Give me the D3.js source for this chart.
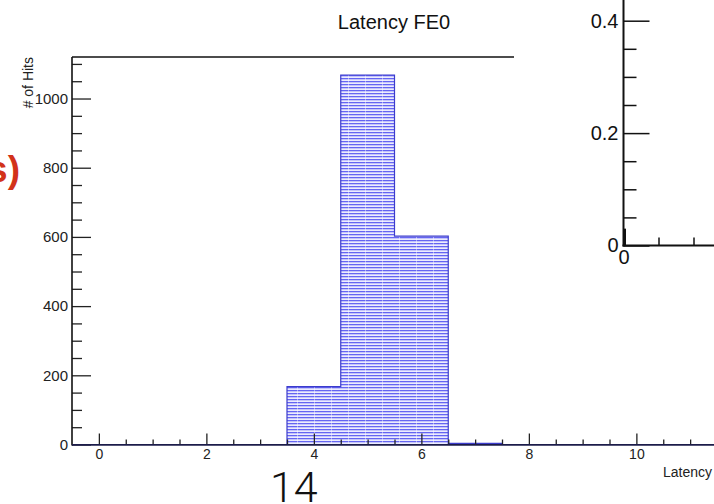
<!DOCTYPE html>
<html>
<head>
<meta charset="utf-8">
<script src="https://cdn.jsdelivr.net/npm/d3@7/dist/d3.min.js"></script>
<style>
  html, body { margin: 0; padding: 0; background: #fff; }
  svg { display: block; font-family: "Liberation Sans", Arial, sans-serif; }
</style>
</head>
<body>
<svg id="chart" width="714" height="504"></svg>
<script>
// ---------- data ----------
const latency = [0, 1, 2, 3, 4, 5, 6, 7, 8, 9, 10, 11, 12, 13, 14, 15];   // bin centres
const hits    = [0, 0, 0, 0, 167, 1068, 602, 3, 0, 0, 0, 0, 0, 0, 0, 0];
const yMajor  = [0, 200, 400, 600, 800, 1000];
const yMinor  = [50, 100, 150, 250, 300, 350, 450, 500, 550, 650, 700, 750, 850, 900, 950, 1050, 1100];
const xMajor  = [0, 2, 4, 6, 8, 10];
const xMinor  = [0.5, 1, 1.5, 2.5, 3, 3.5, 4.5, 5, 5.5, 6.5, 7, 7.5, 8.5, 9, 9.5, 10.5, 11, 11.5, 12];

// inset plot (upper right, partly off the slide)
const insetYMajor = [0, 0.2, 0.4];
const insetYMinor = [0.05, 0.1, 0.15, 0.25, 0.3, 0.35];
const insetXMinor = [1, 2, 3];
const insetLineX  = [0, 0];
const insetLineY  = [0, 0.03];

const width = 714, height = 504;
const svg = d3.select('#chart');

//=======================PATTERN======================================
const defs = svg.append('defs');
const pat = defs.append('pattern')
    .attr('id', 'hatch')
    .attr('patternUnits', 'userSpaceOnUse')
    .attr('width', 17)
    .attr('height', 3);
pat.append('rect').attr('width', 17).attr('height', 3).attr('fill', '#c4c4fa');
pat.append('rect').attr('width', 17).attr('height', 1).attr('fill', '#6565f2');
pat.append('rect').attr('y', 2).attr('width', 17).attr('height', 1).attr('fill', '#ececfe');
pat.append('rect').attr('x', 8).attr('width', 1).attr('height', 3).attr('fill', '#ffffff').attr('opacity', 0.45);

//=======================SCALES======================================
const x = d3.scaleLinear().domain([-0.5, 15.5]).range([72, 72 + 16 * 53.75]);
const y = d3.scaleLinear().domain([0, 1120]).range([444.5, 57]);

//=======================HISTOGRAM===================================
const step = [];
latency.forEach((c, i) => {
  step.push([c - 0.5, hits[i]]);
  step.push([c + 0.5, hits[i]]);
});
const area = d3.area()
    .x(d => x(d[0]))
    .y0(y(0))
    .y1(d => y(d[1]));
const line = d3.line()
    .x(d => x(d[0]))
    .y(d => y(d[1]));

svg.append('path')
    .datum(step)
    .attr('d', area)
    .attr('fill', 'url(#hatch)');

// histogram contour
svg.append('path')
    .datum(step)
    .attr('d', line)
    .attr('fill', 'none')
    .attr('stroke', '#3c3ccc')
    .attr('stroke-width', 1.2);

//=======================AXES========================================
function styleAxis(g) {
  g.select('.domain').remove();
  g.selectAll('.tick line').attr('stroke', '#222').attr('stroke-width', 1.3);
  g.selectAll('.tick text')
      .attr('fill', '#222')
      .style('font-size', '15px')
      .style('font-family', '"Liberation Sans", Arial, sans-serif');
}

svg.append('g')
    .attr('transform', 'translate(72,0)')
    .call(d3.axisLeft(y).tickValues(yMajor).tickSize(-19).tickPadding(4).tickFormat(d3.format('d')))
    .call(styleAxis);
svg.append('g')
    .attr('transform', 'translate(72,0)')
    .call(d3.axisLeft(y).tickValues(yMinor).tickSize(-10).tickFormat(''))
    .call(styleAxis);

svg.append('g')
    .attr('transform', 'translate(0,444.5)')
    .call(d3.axisBottom(x).tickValues(xMajor).tickSize(-11).tickPadding(5).tickFormat(d3.format('d')))
    .call(styleAxis)
    .call(g => g.selectAll('.tick text').style('font-size', '14px'));
svg.append('g')
    .attr('transform', 'translate(0,444.5)')
    .call(d3.axisBottom(x).tickValues(xMinor).tickSize(-5).tickFormat(''))
    .call(styleAxis);

// frame lines
svg.append('line')
    .attr('x1', 72).attr('x2', 72).attr('y1', 57).attr('y2', 445.5)
    .attr('stroke', '#111').attr('stroke-width', 1.6);
svg.append('line')
    .attr('x1', 72).attr('x2', width).attr('y1', 57).attr('y2', 57)
    .attr('stroke', '#111').attr('stroke-width', 1.3);
svg.append('line')
    .attr('x1', 72).attr('x2', width).attr('y1', 444.8).attr('y2', 444.8)
    .attr('stroke', '#1c1c4a').attr('stroke-width', 1.8);

//=======================TEXTS=======================================
svg.append('text')
    .attr('x', 394)
    .attr('y', 29)
    .attr('text-anchor', 'middle')
    .style('font-size', '20px')
    .attr('fill', '#111')
    .text('Latency FE0');

svg.append('text')
    .attr('transform', 'translate(33,57) rotate(-90)')
    .attr('text-anchor', 'end')
    .style('font-size', '14px')
    .attr('fill', '#222')
    .text('# of Hits');

svg.append('text')
    .attr('x', 663)
    .attr('y', 477)
    .style('font-size', '14px')
    .attr('fill', '#222')
    .text('Latency');

//=======================INSET PLOT==================================
svg.append('rect')
    .attr('x', 514).attr('y', 0)
    .attr('width', width - 514).attr('height', 272)
    .attr('fill', '#fff');

const ix = d3.scaleLinear().domain([0, 10]).range([623.5, 623.5 + 350]);
const iy = d3.scaleLinear().domain([0, 0.4]).range([245.5, 20.7]);

function styleInset(g) {
  g.select('.domain').remove();
  g.selectAll('.tick line').attr('stroke', '#111').attr('stroke-width', 1.5);
  g.selectAll('.tick text')
      .attr('fill', '#111')
      .style('font-size', '20px')
      .style('font-family', '"Liberation Sans", Arial, sans-serif');
}

svg.append('g')
    .attr('transform', 'translate(623.5,0)')
    .call(d3.axisLeft(iy).tickValues(insetYMajor).tickSize(-26).tickPadding(5)
          .tickFormat(d => d === 0 ? '0' : d3.format('.1f')(d)))
    .call(styleInset);
svg.append('g')
    .attr('transform', 'translate(623.5,0)')
    .call(d3.axisLeft(iy).tickValues(insetYMinor).tickSize(-13).tickFormat(''))
    .call(styleInset);

svg.append('g')
    .attr('transform', 'translate(0,245.5)')
    .call(d3.axisBottom(ix).tickValues([0]).tickSize(0).tickPadding(4).tickFormat(d3.format('d')))
    .call(styleInset);
svg.append('g')
    .attr('transform', 'translate(0,245.5)')
    .call(d3.axisBottom(ix).tickValues(insetXMinor).tickSize(-8).tickFormat(''))
    .call(styleInset);

svg.append('line')
    .attr('x1', 623.5).attr('x2', 623.5).attr('y1', 0).attr('y2', 246.5)
    .attr('stroke', '#111').attr('stroke-width', 2);
svg.append('line')
    .attr('x1', 622.5).attr('x2', width).attr('y1', 245.5).attr('y2', 245.5)
    .attr('stroke', '#111').attr('stroke-width', 2.2);

svg.append('path')
    .datum(insetLineX.map((v, i) => [v, insetLineY[i]]))
    .attr('d', d3.line().x(d => ix(d[0]) + 1).y(d => iy(d[1])))
    .attr('stroke', '#111')
    .attr('stroke-width', 3);

//=======================SLIDE DECORATIONS===========================
svg.append('text')
    .attr('x', 20)
    .attr('y', 182)
    .attr('text-anchor', 'end')
    .style('font-size', '37px')
    .style('font-weight', 'bold')
    .attr('fill', '#d2321a')
    .text('s)');

svg.append('text')
    .attr('x', 270)
    .attr('y', 502)
    .style('font-size', '43px')
    .style('font-weight', '300')
    .style('font-family', 'Roboto, "Liberation Sans", sans-serif')
    .attr('fill', '#111')
    .text('14');
</script>
</body>
</html>
